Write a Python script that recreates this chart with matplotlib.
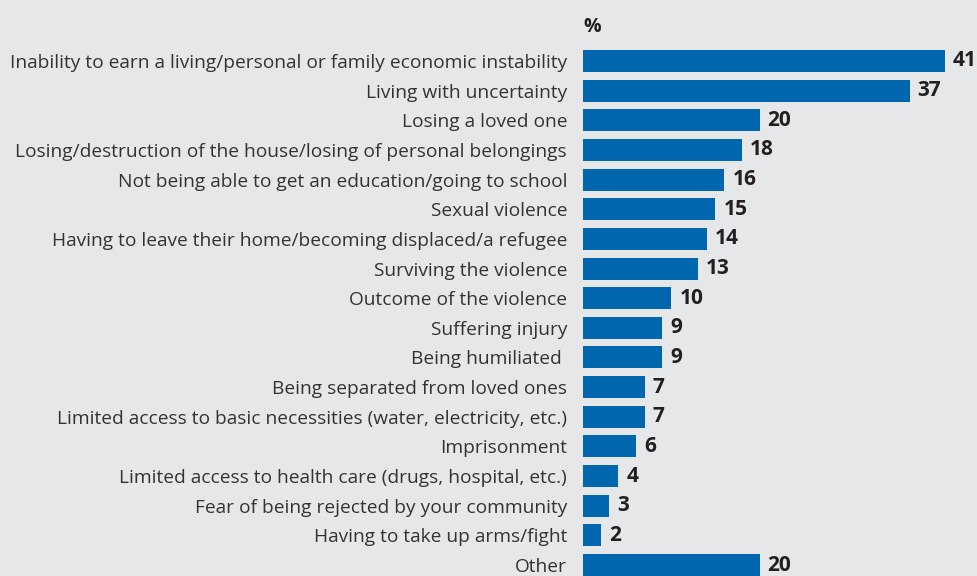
import matplotlib
matplotlib.use("Agg")
import matplotlib.pyplot as plt

categories = [
    "Inability to earn a living/personal or family economic instability",
    "Living with uncertainty",
    "Losing a loved one",
    "Losing/destruction of the house/losing of personal belongings",
    "Not being able to get an education/going to school",
    "Sexual violence",
    "Having to leave their home/becoming displaced/a refugee",
    "Surviving the violence",
    "Outcome of the violence",
    "Suffering injury",
    "Being humiliated ",
    "Being separated from loved ones",
    "Limited access to basic necessities (water, electricity, etc.)",
    "Imprisonment",
    "Limited access to health care (drugs, hospital, etc.)",
    "Fear of being rejected by your community",
    "Having to take up arms/fight",
    "Other",
]
values = [41, 37, 20, 18, 16, 15, 14, 13, 10, 9, 9, 7, 7, 6, 4, 3, 2, 20]

BG = "#E6E7E9"
BAR = "#0066AD"
TXT = "#231F20"

plt.rcParams['font.family'] = ['Open Sans', 'DejaVu Sans']

W, H = 977, 576
fig = plt.figure(figsize=(W / 100, H / 100), dpi=100, facecolor=BG)

x0, x1 = 583, 945
top_px, bot_px = 40, 576
pitch = 29.65
c0 = 61
ax = fig.add_axes([x0 / W, 1 - bot_px / H, (x1 - x0) / W, (bot_px - top_px) / H])
ax.set_facecolor(BG)
pos = list(range(len(values)))
ax.barh(pos, values, height=22 / pitch, color=BAR, clip_on=False)
ax.set_xlim(0, 41)
ax.set_ylim((bot_px - c0) / pitch, -(c0 - top_px) / pitch)
for s in ax.spines.values():
    s.set_visible(False)
ax.set_xticks([])
ax.set_yticks(pos)
ax.set_yticklabels(categories, fontsize=13.78, color="#333333")
ax.tick_params(axis='y', length=0, pad=11.5)

for p, v in zip(pos, values):
    ax.annotate(str(v), (v, p), xytext=(5.8, 0), textcoords='offset points',
                ha='left', va='center', fontsize=15, fontweight='bold',
                color=TXT, annotation_clip=False)

fig.text(x0 / W, 1 - 27 / H, "%", fontsize=14, fontweight='bold', color=TXT,
         ha='left', va='center')

fig.savefig("out.png", dpi=100, facecolor=BG)
